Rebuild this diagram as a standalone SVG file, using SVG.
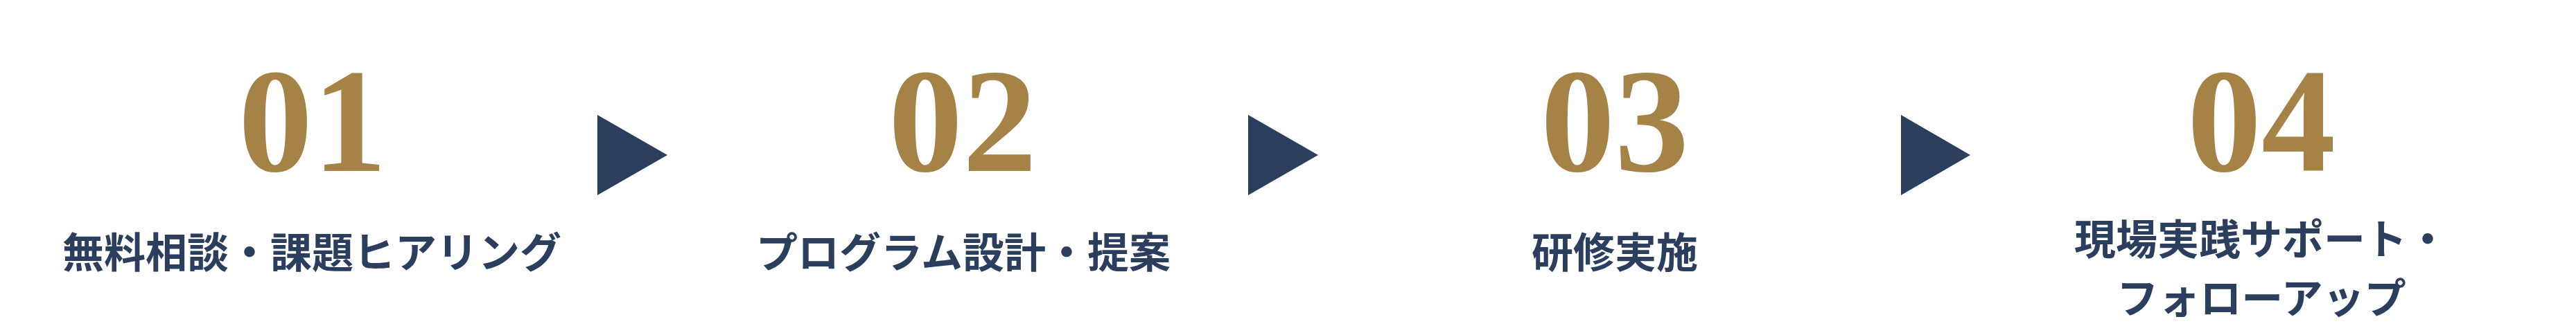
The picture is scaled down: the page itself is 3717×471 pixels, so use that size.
<svg xmlns="http://www.w3.org/2000/svg" width="3717" height="471" viewBox="0 0 3717 471">
<style>
.num{font-family:"Liberation Serif","DejaVu Serif",serif;font-weight:bold;font-size:214px;fill:#A58245;text-anchor:middle}
.lbl{font-family:"Noto Sans CJK JP","Noto Sans",sans-serif;font-weight:bold;font-size:60px;fill:#2C3E5D;text-anchor:middle}
.arrow{fill:#2C3E5D}
</style>
<rect width="3717" height="471" fill="#FFFFFF"/>
<g id="step1">
<text class="num" x="451" y="247">01</text>
<text class="lbl" x="450" y="387">無料相談・課題ヒアリング</text>
</g>
<g id="step2">
<text class="num" x="1389" y="247">02</text>
<text class="lbl" x="1390" y="387">プログラム設計・提案</text>
</g>
<g id="step3">
<text class="num" x="2330" y="247">03</text>
<text class="lbl" x="2330" y="387">研修実施</text>
</g>
<g id="step4">
<text class="num" x="3263" y="247">04</text>
<text class="lbl" x="3263" y="368">現場実践サポート・</text>
<text class="lbl" x="3263" y="453">フォローアップ</text>
</g>
<g id="connectors">
<polygon class="arrow" points="862,166 963,224 862,282"/>
<polygon class="arrow" points="1801,166 1902,224 1801,282"/>
<polygon class="arrow" points="2743,166 2843,224 2743,282"/>
</g>
</svg>
